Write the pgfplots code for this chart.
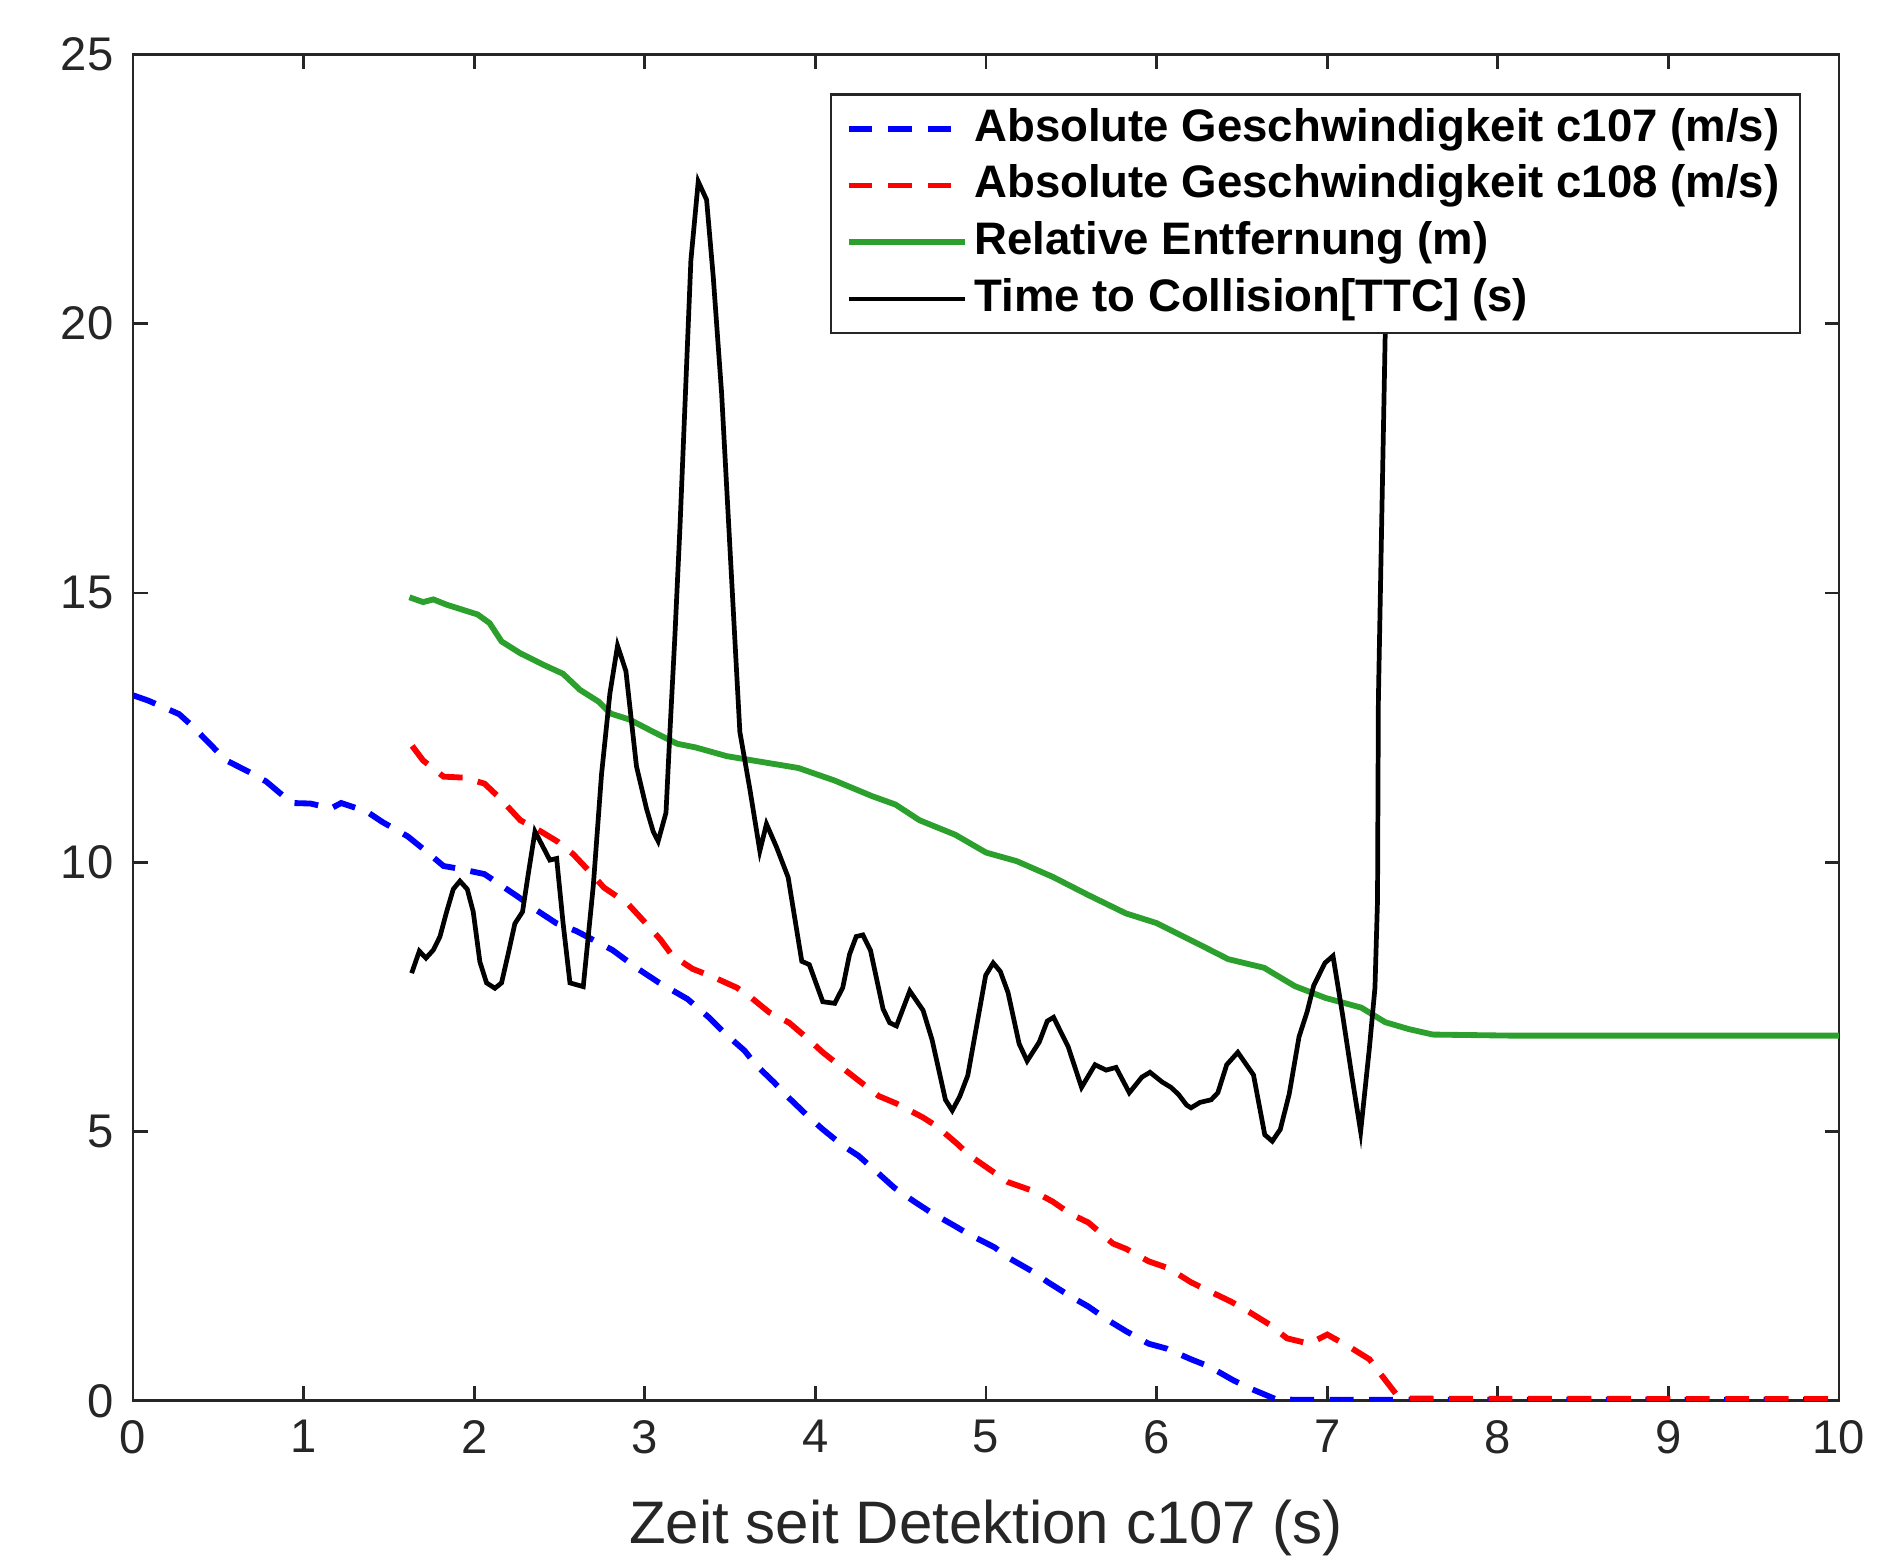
\documentclass[border=0pt]{standalone}
\usepackage{fontspec}
\setmainfont{Liberation Sans}
\usepackage{pgfplots}
\pgfplotsset{compat=1.18}
\definecolor{axgray}{RGB}{38,38,38}
\definecolor{mgreen}{RGB}{44,160,44}

\pgfplotstableread{
x y
0 13.1
0.09 13.0
0.27 12.75
0.34 12.55
0.45 12.2
0.54 11.9
0.69 11.66
0.78 11.5
0.93 11.1
1.04 11.09
1.16 11.0
1.22 11.1
1.37 10.94
1.46 10.75
1.61 10.48
1.70 10.25
1.82 9.93
1.91 9.88
2.06 9.78
2.13 9.63
2.27 9.33
2.36 9.12
2.48 8.87
2.60 8.72
2.72 8.52
2.81 8.37
2.96 8.02
3.08 7.77
3.25 7.46
3.375 7.12
3.467 6.83
3.585 6.50
3.65 6.24
3.755 5.92
3.846 5.62
3.951 5.30
4.043 5.04
4.16 4.74
4.252 4.55
4.37 4.22
4.461 3.96
4.579 3.70
4.671 3.51
4.815 3.25
4.906 3.08
5.05 2.85
5.129 2.66
5.273 2.40
5.364 2.20
5.495 1.94
5.60 1.75
5.718 1.49
5.822 1.29
5.953 1.06
6.058 0.97
6.202 0.77
6.306 0.64
6.45 0.38
6.555 0.22
6.699 0.03
6.8 0.02
10 0.02
}\vone

\pgfplotstableread{
x y
1.636 12.16
1.70 11.89
1.82 11.59
1.94 11.57
2.06 11.46
2.15 11.19
2.27 10.78
2.36 10.63
2.49 10.38
2.58 10.15
2.69 9.78
2.76 9.53
2.90 9.23
2.99 8.92
3.09 8.57
3.16 8.27
3.28 8.02
3.40 7.87
3.54 7.67
3.61 7.52
3.73 7.21
3.846 7.02
3.964 6.70
4.043 6.47
4.187 6.11
4.252 5.95
4.37 5.66
4.475 5.52
4.631 5.26
4.71 5.10
4.828 4.78
4.906 4.55
5.024 4.29
5.129 4.06
5.273 3.90
5.39 3.70
5.495 3.47
5.60 3.31
5.744 2.92
5.822 2.82
5.953 2.59
6.071 2.46
6.202 2.20
6.306 2.04
6.437 1.84
6.542 1.65
6.66 1.42
6.764 1.16
6.895 1.06
7.0 1.23
7.131 1.0
7.248 0.77
7.327 0.44
7.405 0.12
7.45 0.04
10 0.03
}\vtwo

\pgfplotstableread{
x y
1.62 14.92
1.70 14.83
1.76 14.88
1.84 14.78
1.95 14.67
2.02 14.6
2.09 14.44
2.16 14.1
2.27 13.88
2.41 13.66
2.52 13.5
2.62 13.2
2.73 12.98
2.80 12.76
2.91 12.65
3.05 12.42
3.19 12.2
3.30 12.13
3.48 11.97
3.69 11.86
3.90 11.75
4.11 11.52
4.33 11.23
4.47 11.07
4.61 10.78
4.82 10.51
5.0 10.18
5.18 10.02
5.39 9.73
5.60 9.39
5.82 9.05
6.0 8.87
6.24 8.49
6.42 8.2
6.63 8.04
6.81 7.7
6.99 7.48
7.20 7.3
7.34 7.03
7.48 6.9
7.62 6.8
8.09 6.78
10 6.78
}\dist

\pgfplotstableread{
x y
1.633 7.94
1.678 8.35
1.717 8.22
1.76 8.37
1.799 8.62
1.838 9.08
1.877 9.50
1.916 9.65
1.959 9.50
1.994 9.08
2.033 8.15
2.072 7.76
2.121 7.66
2.16 7.76
2.199 8.30
2.238 8.86
2.283 9.08
2.317 9.79
2.356 10.57
2.404 10.28
2.443 10.04
2.483 10.07
2.521 8.86
2.561 7.76
2.639 7.69
2.698 9.57
2.746 11.63
2.795 13.13
2.84 14.02
2.889 13.55
2.951 11.78
3.01 10.99
3.049 10.57
3.078 10.39
3.124 10.92
3.147 12.42
3.176 14.19
3.206 16.23
3.27 21.18
3.313 22.64
3.362 22.30
3.401 20.87
3.45 18.71
3.509 15.24
3.53 14.0
3.557 12.42
3.616 11.35
3.674 10.21
3.713 10.71
3.772 10.28
3.84 9.72
3.92 8.16
3.964 8.10
4.043 7.41
4.113 7.38
4.16 7.67
4.20 8.29
4.239 8.62
4.278 8.65
4.323 8.36
4.396 7.28
4.435 7.02
4.475 6.96
4.553 7.61
4.631 7.25
4.684 6.70
4.762 5.59
4.802 5.39
4.846 5.65
4.893 6.04
4.998 7.90
5.042 8.13
5.084 7.97
5.129 7.58
5.194 6.63
5.241 6.31
5.312 6.66
5.359 7.05
5.396 7.12
5.482 6.57
5.56 5.82
5.639 6.24
5.704 6.14
5.762 6.19
5.84 5.72
5.914 6.01
5.961 6.10
6.032 5.92
6.084 5.82
6.128 5.69
6.176 5.49
6.202 5.44
6.254 5.54
6.32 5.59
6.359 5.72
6.411 6.24
6.476 6.47
6.568 6.05
6.634 4.94
6.678 4.82
6.725 5.04
6.777 5.69
6.835 6.76
6.882 7.22
6.921 7.71
6.987 8.13
7.034 8.26
7.091 7.15
7.144 6.04
7.196 5.0
7.248 6.57
7.28 7.67
7.295 9.30
7.30 13.0
7.34 19.8
7.355 22.5
}\ttc

\begin{document}
\begin{tikzpicture}
\begin{axis}[
    width=307pt, height=242.3pt,
    scale only axis,
    xmin=0, xmax=10, ymin=0, ymax=25,
    xtick={0,1,...,10}, ytick={0,5,...,25},
    tick align=inside,
    major tick length=2.6pt,
    axis line style={axgray, line width=0.5pt},
    tick style={axgray, line width=0.5pt},
    every tick label/.append style={font=\fontsize{8.5}{10}\selectfont, text=axgray},
    /pgf/number format/assume math mode=true,
    xlabel={Zeit seit Detektion c107 (s)},
    xlabel style={font=\fontsize{10.8}{13}\selectfont, text=axgray, yshift=-1.5pt},
    clip=true,
    legend cell align=left,
    legend style={at={(1,1)}, anchor=north east, xshift=-6.8pt, yshift=-7pt,
        draw=axgray, line width=0.4pt, fill=white,
        font=\fontsize{8.2}{9}\selectfont\bfseries,
        inner xsep=2.6pt, inner ysep=1.1pt, row sep=0pt,
        nodes={inner xsep=1.1pt, inner ysep=1.1pt, text height=6.2pt, text depth=1.8pt}},
    legend image code/.code={\draw[#1] plot coordinates {(0pt,0pt) (21pt,0pt)};},
]
\addplot[blue, line width=1.05pt, dash pattern=on 4.3pt off 2.8pt] table {\vone};
\addplot[red, line width=1.05pt, dash pattern=on 4.3pt off 2.8pt] table {\vtwo};
\addplot[mgreen, line width=1.05pt] table {\dist};
\addplot[black, line width=0.85pt] table {\ttc};
\legend{Absolute Geschwindigkeit c107 (m/s), Absolute Geschwindigkeit c108 (m/s), Relative Entfernung (m), Time to Collision[TTC] (s)}
\end{axis}
\pgfresetboundingbox
\path ([shift={(-23.95pt,-29.83pt)}]current axis.south west) rectangle ([shift={(10.45pt,9.8pt)}]current axis.north east);
\end{tikzpicture}
\end{document}
